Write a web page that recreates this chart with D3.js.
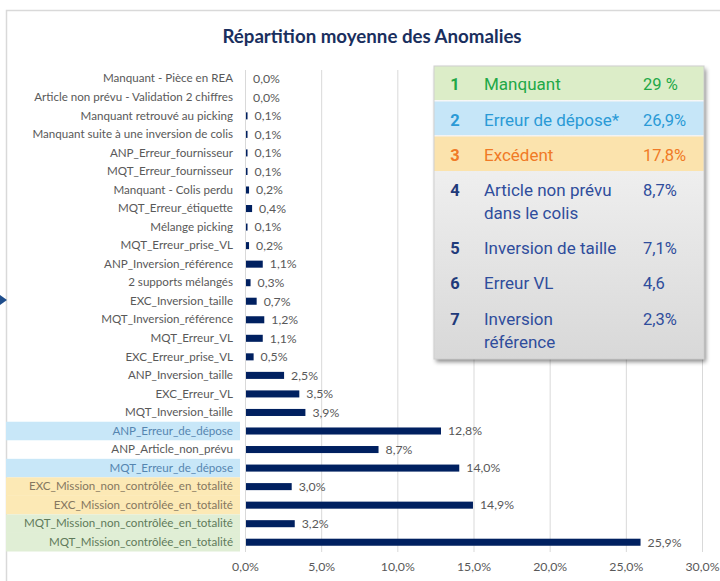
<!DOCTYPE html>
<html><head><meta charset="utf-8">
<script src="https://cdn.jsdelivr.net/npm/d3@7"></script>
<style>
html,body{margin:0;padding:0;background:#fff;}
svg{display:block;}
</style></head>
<body>
<script>
const categories = [
  "Manquant - Pièce en REA",
  "Article non prévu - Validation 2 chiffres",
  "Manquant retrouvé au picking",
  "Manquant suite à une inversion de colis",
  "ANP_Erreur_fournisseur",
  "MQT_Erreur_fournisseur",
  "Manquant - Colis perdu",
  "MQT_Erreur_étiquette",
  "Mélange picking",
  "MQT_Erreur_prise_VL",
  "ANP_Inversion_référence",
  "2 supports mélangés",
  "EXC_Inversion_taille",
  "MQT_Inversion_référence",
  "MQT_Erreur_VL",
  "EXC_Erreur_prise_VL",
  "ANP_Inversion_taille",
  "EXC_Erreur_VL",
  "MQT_Inversion_taille",
  "ANP_Erreur_de_dépose",
  "ANP_Article_non_prévu",
  "MQT_Erreur_de_dépose",
  "EXC_Mission_non_contrôlée_en_totalité",
  "EXC_Mission_contrôlée_en_totalité",
  "MQT_Mission_non_contrôlée_en_totalité",
  "MQT_Mission_contrôlée_en_totalité"
];
const values = [0.0,0.0,0.1,0.1,0.1,0.1,0.2,0.4,0.1,0.2,1.1,0.3,0.7,1.2,1.1,0.5,2.5,3.5,3.9,12.8,8.7,14.0,3.0,14.9,3.2,25.9];
const xTicks = [0,5,10,15,20,25,30];
const title = "Répartition moyenne des Anomalies";

const legendNums = ["1","2","3","4","5","6","7"];
const legendLabels = [["Manquant"],["Erreur de dépose*"],["Excédent"],["Article non prévu","dans le colis"],["Inversion de taille"],["Erreur VL"],["Inversion","référence"]];
const legendValues = ["29 %","26,9%","17,8%","8,7%","7,1%","4,6","2,3%"];

// highlight groups (styling lookup)
const highlightGroup = {
  "ANP_Erreur_de_dépose":"blue","MQT_Erreur_de_dépose":"blue",
  "EXC_Mission_non_contrôlée_en_totalité":"orange","EXC_Mission_contrôlée_en_totalité":"orange",
  "MQT_Mission_non_contrôlée_en_totalité":"green","MQT_Mission_contrôlée_en_totalité":"green"
};
const groupFill = {blue:"#c8e7f8", orange:"#fce9b5", green:"#e0eed5"};

const W=720,H=581;
const svg=d3.select("body").append("svg").attr("width",W).attr("height",H);
const defs=svg.append("defs");
const f=defs.append("filter").attr("id","sh").attr("x","-10%").attr("y","-10%").attr("width","130%").attr("height","130%");
f.append("feDropShadow").attr("dx",2).attr("dy",3).attr("stdDeviation",2).attr("flood-color","#000").attr("flood-opacity",0.45);
const g=defs.append("linearGradient").attr("id","gr").attr("x1",0).attr("y1",0).attr("x2",0).attr("y2",1);
g.append("stop").attr("offset","0%").attr("stop-color","#fbfbfb");
g.append("stop").attr("offset","100%").attr("stop-color","#d8d8d8");

// frame
svg.append("path").attr("d","M6.5,581 V10.5 H720").attr("fill","none").attr("stroke","#d9d9d9").attr("stroke-width",1.5);
// arrow marker
svg.append("path").attr("d","M0,295 L7,300 L0,305 Z").attr("fill","#1f4e8c");

// title
svg.append("text").attr("x",372).attr("y",43).attr("text-anchor","middle")
  .attr("font-family","Lato, sans-serif").attr("font-weight","bold").attr("font-size",18.7)
  .attr("fill","#1a2f5e").text(title);

const x=d3.scaleLinear().domain([0,30]).range([245,702]);
const y=d3.scaleBand().domain(categories).range([69.5,551.5]).paddingInner(0.62).paddingOuter(0.31);
const step=y.step();

// highlight backgrounds
svg.append("g").selectAll("rect").data(categories.filter(c=>highlightGroup[c])).join("rect")
  .attr("x",6).attr("width",234)
  .attr("y",c=>y(c)+y.bandwidth()/2-step/2).attr("height",step)
  .attr("fill",c=>groupFill[highlightGroup[c]]);

// gridlines
svg.append("g").selectAll("line").data(xTicks.slice(1)).join("line")
  .attr("x1",d=>x(d)+0.5).attr("x2",d=>x(d)+0.5).attr("y1",70).attr("y2",552)
  .attr("stroke","#d9d9d9").attr("stroke-width",1);
// y axis line
svg.append("line").attr("x1",x(0)+0.5).attr("x2",x(0)+0.5).attr("y1",70).attr("y2",552).attr("stroke","#d9d9d9");

// x axis
const xa=svg.append("g").attr("transform","translate(0,552)")
  .call(d3.axisBottom(x).tickValues(xTicks).tickSize(0).tickPadding(10).tickFormat(d=>d3.format(".1f")(d).replace(".",",")+"%"));
xa.select(".domain").remove();
xa.selectAll("text").attr("font-family","Lato, sans-serif").attr("font-size",12.3).attr("fill","#595959");

// y axis labels
const ya=svg.append("g").attr("transform","translate(240,0)")
  .call(d3.axisLeft(y).tickSize(0).tickPadding(7));
ya.select(".domain").remove();
ya.selectAll("text").attr("font-family","Lato, sans-serif").attr("font-size",11.6)
  .attr("fill",c=>{const h=highlightGroup[c];return h==="blue"?"#5585b0":(h==="orange"?"#857760":(h==="green"?"#5f7a5a":"#595959"));});

// bars
svg.append("g").selectAll("rect").data(values).join("rect")
  .attr("x",x(0)+1).attr("y",(d,i)=>y(categories[i]))
  .attr("width",d=>Math.max(0,x(d)-x(0))).attr("height",y.bandwidth())
  .attr("fill","#002060");

// value labels
svg.append("g").selectAll("text").data(values).join("text")
  .attr("x",d=>x(d)+8).attr("y",(d,i)=>y(categories[i])+y.bandwidth()/2)
  .attr("dy","0.35em").attr("font-family","Lato, sans-serif").attr("font-size",12.3).attr("fill","#595959")
  .text(d=>d3.format(".1f")(d).replace(".",",")+"%");

// legend box
const lx=434, lw=270;
const rowTop=[66,101.5,136.5,171];
const lg=svg.append("g");
lg.append("rect").attr("x",lx).attr("y",66).attr("width",lw).attr("height",293).attr("fill","url(#gr)").attr("filter","url(#sh)");
const topFills=["#dcedc8","#c6e6f8","#fbe3ad"];
lg.selectAll("rect.top").data(topFills).join("rect").attr("class","top")
  .attr("x",lx).attr("y",(d,i)=>rowTop[i]).attr("width",lw).attr("height",(d,i)=>rowTop[i+1]-rowTop[i]-(i<2?1.5:0))
  .attr("fill",d=>d);
lg.append("rect").attr("x",lx).attr("y",66).attr("width",lw).attr("height",293).attr("fill","none").attr("stroke","#cfcfcf");
const textColors=["#22a847","#2a9ad6","#f07a26","#2f4d9c","#2f4d9c","#2f4d9c","#2f4d9c"];
const numColors=["#22a847","#2a9ad6","#f07a26","#1f3a7a","#1f3a7a","#1f3a7a","#1f3a7a"];
const rowCenters=[84,120,155,190,248,283,319];
legendNums.forEach((n,i)=>{
  const cy=rowCenters[i];
  lg.append("text").attr("x",455).attr("y",cy).attr("dy","0.35em").attr("text-anchor","middle")
    .attr("font-family","Roboto, sans-serif").attr("font-weight","bold").attr("font-size",16.5).attr("fill",numColors[i]).text(n);
  legendLabels[i].forEach((t,j)=>{
    lg.append("text").attr("x",484).attr("y",cy+j*23.5).attr("dy","0.35em")
      .attr("font-family","Roboto, sans-serif").attr("font-size",17).attr("fill",textColors[i]).text(t);
  });
  lg.append("text").attr("x",643).attr("y",cy).attr("dy","0.35em")
    .attr("font-family","Roboto, sans-serif").attr("font-size",16.5).attr("fill",textColors[i]).text(legendValues[i]);
});
</script>
</body></html>
